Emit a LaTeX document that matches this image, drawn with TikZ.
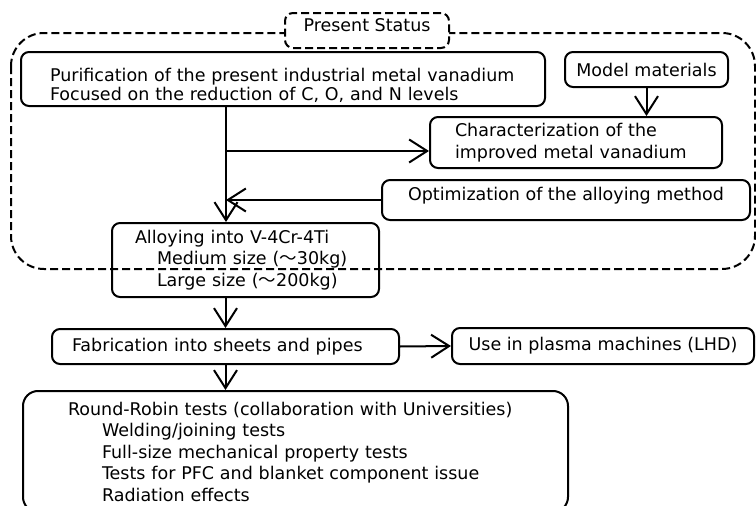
\documentclass[tikz,border=0pt]{standalone}
\usepackage{fontspec}
\setmainfont{DejaVu Sans}
\newfontfamily\cjk{Noto Sans CJK JP}
\usetikzlibrary{arrows.meta}

\begin{document}
\begin{tikzpicture}[x=1pt, y=-1pt, line width=2pt,
  font=\fontsize{17.5}{21.5}\selectfont,
  box/.style={draw, rounded corners=8pt, inner ysep=0pt, align=left},
  arr/.style={-{Straight Barb[length=18pt, width=23pt, line width=2pt]}}]
\useasboundingbox (0,0) rectangle (756,506);

% dashed outline of the present status
\draw[dash pattern=on 8pt off 4pt, rounded corners=33pt] (11,33) rectangle (755,269);
\node[box, dash pattern=on 8pt off 4pt, fill=white, minimum width=164pt, minimum height=35pt] (status) at (367,30.5)
  {\rule[-11pt]{0pt}{11pt}Present Status};

\node[box, inner xsep=29pt, text width=466pt, minimum height=54pt, font=\fontsize{17.5}{19}\selectfont] (purif) at (283,79)
  {\rule{0pt}{27pt}Purification of the present industrial metal vanadium\\Focused on the reduction of C, O, and N levels};
\node[box, minimum width=163pt, minimum height=35pt] (model) at (646.5,69.5) {Model materials};
\node[box, inner xsep=25pt, text width=242pt, minimum height=51pt, font=\fontsize{17.5}{22}\selectfont] (charac) at (576,142.5)
  {Characterization of the\\improved metal vanadium};
\node[box, minimum width=368pt, minimum height=40pt] (optim) at (566,200)
  {\rule[-13pt]{0pt}{13pt}Optimization of the alloying method};
\node[box, inner xsep=23pt, text width=221pt, minimum height=74pt] (alloy) at (245.5,260)
  {Alloying into V-4Cr-4Ti\\\hspace*{22pt}Medium size ({\cjk ～}30kg)\\\hspace*{22pt}Large size ({\cjk ～}200kg)};
\node[box, inner xsep=20pt, text width=307pt, minimum height=35pt] (fab) at (225.5,346.5) {Fabrication into sheets and pipes};
\node[box, minimum width=302pt, minimum height=36pt] (use) at (603,346) {Use in plasma machines (LHD)};
\node[box, rounded corners=15pt, inner xsep=45pt, text width=455pt, minimum height=121pt] (rr) at (295.5,451.5)
  {Round-Robin tests (collaboration with Universities)\\
   \hspace*{34pt}Welding/joining tests\\
   \hspace*{34pt}Full-size mechanical property tests\\
   \hspace*{34pt}Tests for PFC and blanket component issue\\
   \hspace*{34pt}Radiation effects};

% connectors
\coordinate (split) at (226,151);
\coordinate (join) at (226,200);
\draw (purif.south -| split) -- (join);
\draw[arr] (join) -- (alloy.north -| join);
\draw[arr] (split) -- (split -| charac.west);
\draw[arr] (optim.west) -- (join);
\draw[arr] (model.south) -- (model.south |- charac.north);
\draw[arr] (alloy.south -| fab.north) -- (fab.north);
\draw[arr] (fab.south) -- (fab.south |- rr.north);
\draw[arr] (fab.east) -- (use.west);
\end{tikzpicture}
\end{document}
